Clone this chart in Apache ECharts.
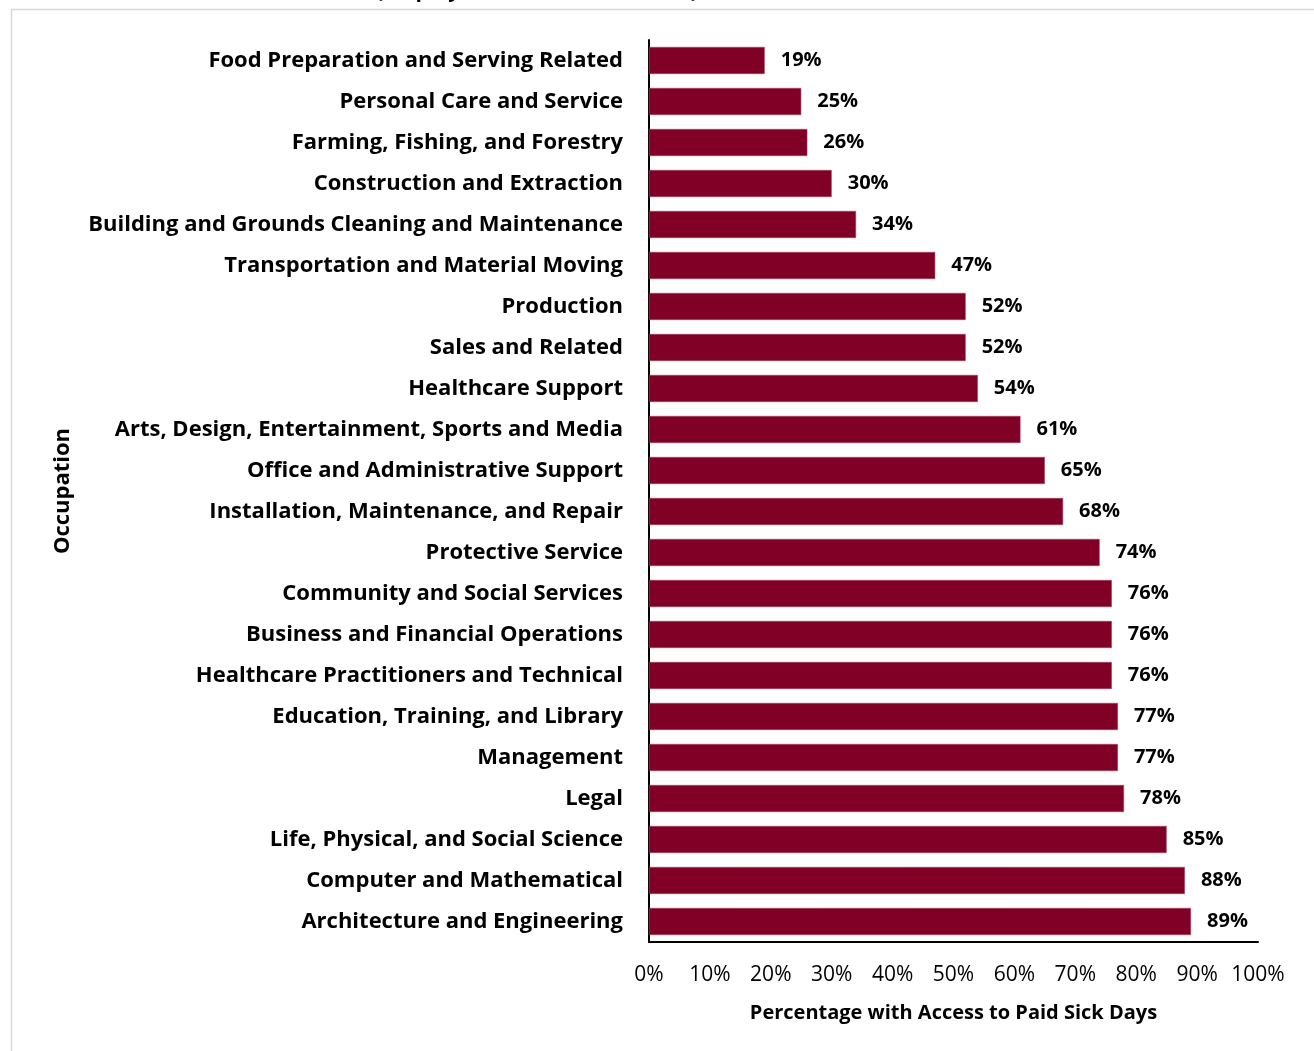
<!DOCTYPE html>
<html>
<head>
<meta charset="utf-8">
<script src="https://cdn.jsdelivr.net/npm/echarts@6/dist/echarts.min.js"></script>
<style>
  html, body { margin: 0; padding: 0; background: #ffffff; }
  #chart { width: 1314px; height: 1051px; }
</style>
</head>
<body>
<div id="chart"></div>
<script>
// Occupations, listed top to bottom
const occupations = [
  'Food Preparation and Serving Related',
  'Personal Care and Service',
  'Farming, Fishing, and Forestry',
  'Construction and Extraction',
  'Building and Grounds Cleaning and Maintenance',
  'Transportation and Material Moving',
  'Production',
  'Sales and Related',
  'Healthcare Support',
  'Arts, Design, Entertainment, Sports and Media',
  'Office and Administrative Support',
  'Installation, Maintenance, and Repair',
  'Protective Service',
  'Community and Social Services',
  'Business and Financial Operations',
  'Healthcare Practitioners and Technical',
  'Education, Training, and Library',
  'Management',
  'Legal',
  'Life, Physical, and Social Science',
  'Computer and Mathematical',
  'Architecture and Engineering'
];

// Share of workers with access to paid sick days (%)
const accessPct = [19, 25, 26, 30, 34, 47, 52, 52, 54, 61, 65, 68, 74, 76, 76, 76, 77, 77, 78, 85, 88, 89];

// Horizontal axis ticks (%)
const pctTicks = [0, 10, 20, 30, 40, 50, 60, 70, 80, 90, 100];

const FONT = '"Open Sans", Lato, sans-serif';
const BAR = '#800026';

const chart = echarts.init(document.getElementById('chart'), null, { renderer: 'canvas' });

chart.setOption({
  backgroundColor: '#ffffff',
  animation: false,
  textStyle: { fontFamily: FONT, color: '#000' },
  graphic: [
    {
      type: 'rect',
      shape: { x: 11.5, y: 9.5, width: 1320, height: 1060 },
      style: { fill: 'none', stroke: '#d9d9d9', lineWidth: 1.5 },
      silent: true
    },
    {
      type: 'text',
      x: 537, y: -19,
      style: {
        text: '(Employed Workers in the U.S.)',
        font: 'bold 21px ' + FONT,
        fill: '#000',
        align: 'center',
        verticalAlign: 'top'
      },
      silent: true
    }
  ],
  grid: { left: 649, right: 56, top: 40, bottom: 109, containLabel: false },
  xAxis: {
    type: 'value',
    min: pctTicks[0],
    max: pctTicks[pctTicks.length - 1],
    interval: 10,
    splitLine: { show: false },
    axisTick: { show: false },
    axisLine: { show: true, lineStyle: { color: '#000', width: 2 } },
    axisLabel: {
      margin: 23,
      fontSize: 21,
      color: '#000',
      fontFamily: FONT,
      formatter: v => v + '%'
    },
    name: 'Percentage with Access to Paid Sick Days',
    nameLocation: 'middle',
    nameGap: 61,
    nameTextStyle: { fontSize: 20, fontWeight: 'bold', color: '#000', fontFamily: FONT }
  },
  yAxis: {
    type: 'category',
    data: occupations,
    inverse: true,
    axisTick: { show: false },
    axisLine: { show: true, lineStyle: { color: '#000', width: 2 } },
    axisLabel: {
      margin: 26,
      fontSize: 22,
      fontWeight: 'bold',
      color: '#000',
      fontFamily: FONT
    },
    name: 'Occupation',
    nameLocation: 'middle',
    nameGap: 575,
    nameRotate: 90,
    nameTextStyle: { fontSize: 22, fontWeight: 'bold', color: '#000', fontFamily: FONT }
  },
  series: [
    {
      type: 'bar',
      data: accessPct,
      barCategoryGap: '34%',
      itemStyle: { color: BAR, borderColor: '#a0455e', borderWidth: 0.6 },
      label: {
        show: true,
        position: 'right',
        distance: 16,
        fontSize: 20,
        fontWeight: 'bold',
        color: '#000',
        fontFamily: FONT,
        formatter: p => p.value + '%'
      }
    }
  ]
});
</script>
</body>
</html>
